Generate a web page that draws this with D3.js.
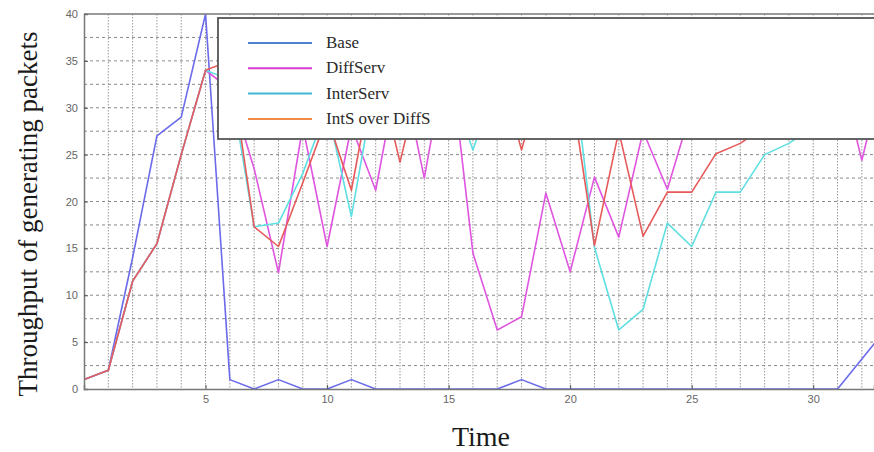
<!DOCTYPE html>
<html>
<head>
<meta charset="utf-8">
<script src="https://cdn.jsdelivr.net/npm/d3@7"></script>
<style>
html,body{margin:0;padding:0;background:#fff;}
svg{display:block;}
</style>
</head>
<body>
<svg id="chart" width="874" height="452"></svg>
<script>
// ---- data ----
const times = d3.range(0, 34);
const seriesNames = ["Base", "DiffServ", "InterServ", "IntS over DiffS"];
const base      = [1,2,14,27,29,40,1,0,1,0,0,1,0,0,0,0,0,0,1,0,0,0,0,0,0,0,0,0,0,0,0,0,3.2,6.4];
const diffServ  = [1,2,11.5,15.5,25,34,32,23.5,12.4,28,15.2,28,21.2,35,22.5,37,14.5,6.3,7.7,20.9,12.5,22.6,16.2,27.5,21.3,30,31,30,31,30,35,35,24.4,35];
const interServ = [1,2,11.5,15.5,25,34,33,17.3,17.7,23,30,18.4,33,33,32,33,25.5,33,33,33,37,15.1,6.3,8.5,17.7,15.2,21,21,25,26.2,28,29,30,30];
const intSDiffS = [1,2,11.5,15.5,25,34,35,17.3,15.2,22,29,21.2,35,24.2,35,31,30,35,25.5,35,32.6,15.3,27.5,16.3,21,21,25.1,26.2,28,29,29,30,30,30];
const yTicks = [0,5,10,15,20,25,30,35,40];
const xTicks = [5,10,15,20,25,30];

const lineColors   = ["#6a6aea", "#e055e0", "#5fdfe2", "#e65a5a"];
const legendColors = ["#5080cf", "#d63ad0", "#40b8d2", "#f08a48"];
const allSeries = [base, diffServ, interServ, intSDiffS];

// ---- layout ----
const svg = d3.select("#chart");
const L = 84, T = 14, B = 389, R = 874;
const x = d3.scaleLinear().domain([0, 32.5]).range([L, R]);
const y = d3.scaleLinear().domain([0, 40]).range([B, T]);

svg.append("defs").append("clipPath").attr("id","plotclip")
  .append("rect").attr("x", L).attr("y", T).attr("width", R - L).attr("height", B - T);

// grid
const grid = svg.append("g");
grid.selectAll("line.v").data(d3.range(1, 33)).enter().append("line")
  .attr("x1", d => x(d)).attr("x2", d => x(d)).attr("y1", T).attr("y2", B)
  .attr("stroke", "#9a9a9a").attr("stroke-width", 1).attr("stroke-dasharray", "1.5,1.5");
grid.selectAll("line.h").data(d3.range(2.5, 40, 2.5)).enter().append("line")
  .attr("x1", L).attr("x2", R).attr("y1", d => y(d)).attr("y2", d => y(d))
  .attr("stroke", "#8a8a8a").attr("stroke-width", 1).attr("stroke-dasharray", "3,3");

// series lines
const lineGen = d3.line().x((d, i) => x(times[i])).y(d => y(d));
const lines = svg.append("g").attr("clip-path", "url(#plotclip)");
allSeries.forEach((s, k) => {
  lines.append("path").datum(s).attr("d", lineGen)
    .attr("fill", "none").attr("stroke", lineColors[k]).attr("stroke-width", 1.6)
    .attr("stroke-linejoin", "round");
});

// axes
const yAxis = d3.axisLeft(y).tickValues(yTicks).tickSize(-4).tickPadding(6);
const gy = svg.append("g").attr("transform", `translate(${L},0)`).call(yAxis);
const xAxis = d3.axisBottom(x).tickValues(xTicks).tickSize(-4).tickPadding(6).tickFormat(d3.format("d"));
const gx = svg.append("g").attr("transform", `translate(0,${B})`).call(xAxis);
[gx, gy].forEach(g => {
  g.select(".domain").attr("stroke", "#777").attr("stroke-width", 1.5);
  g.selectAll(".tick line").attr("stroke", "#555");
  g.selectAll(".tick text").attr("fill", "#666").attr("font-family", "Liberation Sans, Arial, sans-serif").attr("font-size", 11);
});
// top border
svg.append("line").attr("x1", L).attr("x2", R).attr("y1", T).attr("y2", T)
  .attr("stroke", "#777").attr("stroke-width", 1.5);

// legend
const lg = svg.append("g");
lg.append("rect").attr("x", 218).attr("y", 18).attr("width", 680).attr("height", 121)
  .attr("fill", "#fff").attr("stroke", "#555").attr("stroke-width", 1.8);
seriesNames.forEach((name, k) => {
  const yy = 43 + k * 25.3;
  lg.append("line").attr("x1", 248).attr("x2", 312).attr("y1", yy).attr("y2", yy)
    .attr("stroke", legendColors[k]).attr("stroke-width", 2);
  lg.append("text").attr("x", 326).attr("y", yy + 5).text(name)
    .attr("font-family", "Liberation Serif, Times New Roman, serif").attr("font-size", 17).attr("fill", "#2a2a2a");
});

// titles
svg.append("text").attr("x", 481).attr("y", 446).attr("text-anchor", "middle")
  .attr("font-family", "Liberation Serif, Times New Roman, serif").attr("font-size", 28).attr("fill", "#1a1a1a")
  .text("Time");
svg.append("text").attr("transform", "translate(37,214) rotate(-90)").attr("text-anchor", "middle")
  .attr("font-family", "Liberation Serif, Times New Roman, serif").attr("font-size", 27).attr("fill", "#1a1a1a")
  .text("Throughput of generating packets");
</script>
</body>
</html>
